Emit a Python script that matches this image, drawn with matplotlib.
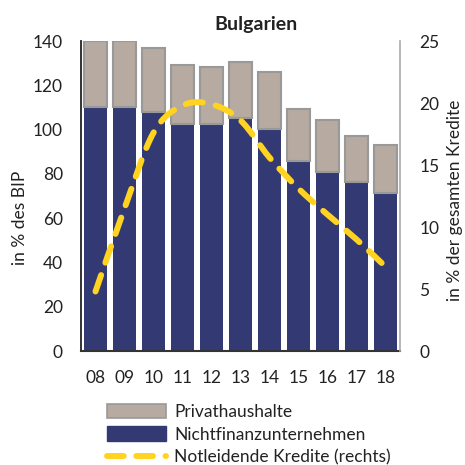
import numpy as np
import matplotlib.pyplot as plt
from matplotlib.path import Path
from matplotlib.patches import PathPatch, Patch
from matplotlib.lines import Line2D

years = ["08", "09", "10", "11", "12", "13", "14", "15", "16", "17", "18"]
nfc = [110.3, 110.3, 108.0, 102.4, 102.4, 105.1, 100.1, 85.7, 80.8, 76.2, 71.5]
total = [140.0, 140.0, 137.0, 129.2, 128.4, 130.7, 126.0, 109.3, 104.5, 97.2, 93.2]
households = [t - n for t, n in zip(total, nfc)]
npl = [4.8, 11.5, 17.6, 19.8, 19.9, 18.6, 15.6, 13.1, 11.0, 9.0, 6.8]

navy = "#333A73"
taupe = "#B6AAA1"
yellow = "#FFD320"
txt = "#222222"

plt.rcParams["font.family"] = ["Lato", "DejaVu Sans"]


def smooth_path(x, y, t=1 / 6):
    # Glättung wie in Excel: Catmull-Rom als Bezier-Kurve
    x = np.asarray(x, float)
    y = np.asarray(y, float)
    pts = np.column_stack([x, y])
    verts = [pts[0]]
    codes = [Path.MOVETO]
    n = len(pts)
    for i in range(n - 1):
        p0 = pts[max(i - 1, 0)]
        p1 = pts[i]
        p2 = pts[i + 1]
        p3 = pts[min(i + 2, n - 1)]
        verts += [p1 + (p2 - p0) * t, p2 - (p3 - p1) * t, p2]
        codes += [Path.CURVE4] * 3
    return Path(verts, codes)


fig = plt.figure(figsize=(4.65, 4.65), dpi=100)
ax = fig.add_axes([81 / 465, 1 - 351 / 465, 319 / 465, 310 / 465])

x = np.arange(len(years))
ax.bar(x, nfc, width=0.8, color=navy, edgecolor=navy, linewidth=0, zorder=2)
ax.bar(x, households, bottom=nfc, width=0.8, color=taupe,
       edgecolor="#999999", linewidth=1.5, zorder=2)

ax.set_xlim(-0.5, len(years) - 0.5)
ax.set_ylim(0, 140)
ax.set_yticks(range(0, 141, 20))
ax.set_xticks(x)
ax.set_xticklabels(years)
ax.tick_params(length=0, labelsize=12.5, colors=txt)
ax.tick_params(axis="x", pad=14)
ax.tick_params(axis="y", pad=13)
ax.set_ylabel("in % des BIP", fontsize=12.5, color=txt)
ax.yaxis.set_label_coords(-0.166, 0.43)
for s in ["top", "right"]:
    ax.spines[s].set_visible(False)
ax.spines["left"].set_color(txt)
ax.spines["left"].set_linewidth(1.3)
ax.spines["bottom"].set_color("#333333")
ax.spines["bottom"].set_linewidth(1.5)

ax2 = ax.twinx()
ax2.set_ylim(0, 25)
ax2.set_yticks(range(0, 26, 5))
ax2.tick_params(length=0, labelsize=12.5, colors=txt, pad=14)
ax2.set_ylabel("in % der gesamten Kredite", fontsize=12.5, color=txt)
ax2.yaxis.set_label_coords(1.147, 0.487)
for s in ["top", "left", "bottom"]:
    ax2.spines[s].set_visible(False)
ax2.spines["right"].set_color("#AAAAAA")
ax2.spines["right"].set_linewidth(1.2)

curve = PathPatch(smooth_path(x, npl), facecolor="none", edgecolor=yellow,
                  linewidth=4.3, linestyle=(0, (2.9, 2.2)), capstyle="round",
                  zorder=5)
ax2.add_patch(curve)

fig.text(256 / 465, 1 - 30 / 465, "Bulgarien", fontsize=14, fontweight="bold",
         color=txt, ha="center", va="baseline")

handles = [
    Patch(facecolor=taupe, edgecolor="#999999", linewidth=1.2),
    Patch(facecolor=navy, edgecolor=navy),
    Line2D([0], [0], color=yellow, linewidth=4.3, linestyle=(0, (2.8, 2.1)),
           dash_capstyle="round"),
]
labels = ["Privathaushalte", "Nichtfinanzunternehmen", "Notleidende Kredite (rechts)"]
fig.legend(handles, labels, loc="upper left", bbox_to_anchor=(98 / 465, 1 - 395 / 465),
           frameon=False, fontsize=12.5, handlelength=3.4, handleheight=0.9,
           handletextpad=0.5, labelspacing=0.38, borderpad=0, labelcolor=txt)

fig.savefig("out.png", dpi=100)
